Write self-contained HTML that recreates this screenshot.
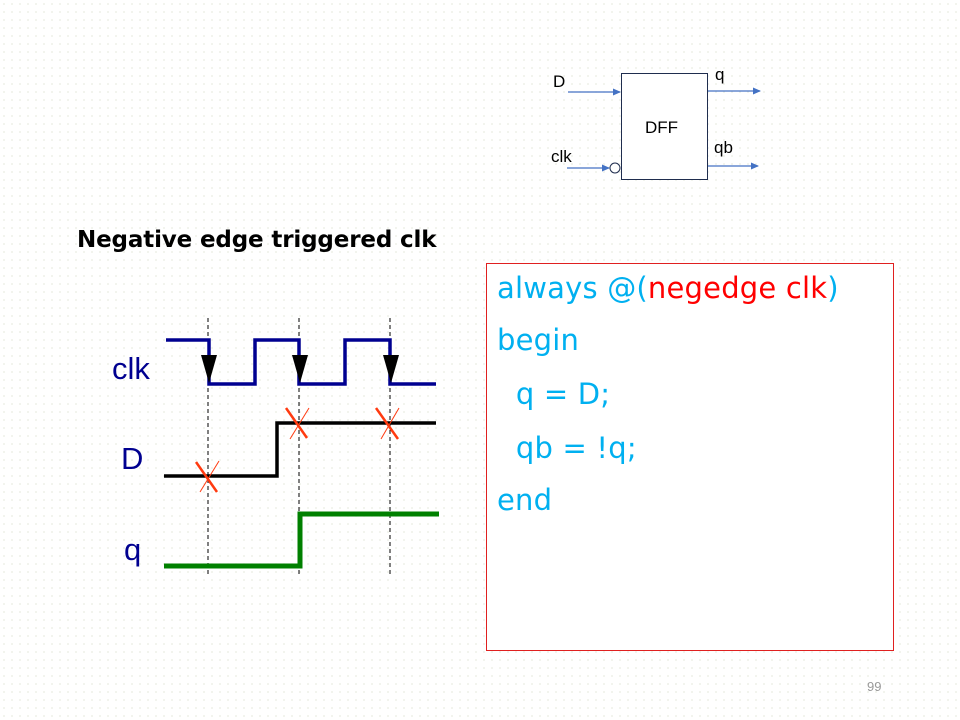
<!DOCTYPE html>
<html><head><style>
body{margin:0;width:960px;height:720px;overflow:hidden;background:#fff;
background-image:radial-gradient(circle,#e2e5d8 0.6px,transparent 0.9px);background-size:8px 8px;
font-family:"Liberation Sans",sans-serif;position:relative}
.t{position:absolute;white-space:nowrap}
.code{position:absolute;left:486px;top:263px;width:406px;height:386px;border:1px solid #e02020;background:#fff}
.code div{position:absolute;left:10px;font-family:"DejaVu Sans","Liberation Sans",sans-serif;font-size:29px;color:#00b0f0;letter-spacing:0.2px}
</style></head><body>
<svg width="960" height="720" style="position:absolute;left:0;top:0">
<defs><marker id="a" markerWidth="8" markerHeight="8" refX="7" refY="4" orient="auto" markerUnits="userSpaceOnUse"><path d="M0,0.5 L8,4 L0,7.5z" fill="#4472c4"/></marker></defs>
<rect x="621.5" y="73.5" width="86" height="106" fill="#fff" stroke="#1f2d4e" stroke-width="1"/>
<line x1="568" y1="92" x2="620" y2="92" stroke="#4472c4" stroke-width="1.3" marker-end="url(#a)"/>
<line x1="567" y1="168" x2="609" y2="168" stroke="#4472c4" stroke-width="1.3" marker-end="url(#a)"/>
<circle cx="615" cy="168" r="5" fill="#fff" stroke="#1f2d4e"/>
<line x1="708" y1="91" x2="760" y2="91" stroke="#4472c4" stroke-width="1.3" marker-end="url(#a)"/>
<line x1="708" y1="166" x2="758" y2="166" stroke="#4472c4" stroke-width="1.3" marker-end="url(#a)"/>
<text x="553" y="87" font-size="17" font-family="Liberation Sans">D</text>
<text x="551" y="162" font-size="17" font-family="Liberation Sans">clk</text>
<text x="715" y="80" font-size="17" font-family="Liberation Sans">q</text>
<text x="714" y="153" font-size="17" font-family="Liberation Sans">qb</text>
<text x="645" y="133" font-size="17" font-family="Liberation Sans">DFF</text>
<g stroke="#000" stroke-width="1" stroke-dasharray="4,3">
<line x1="208" y1="318" x2="208" y2="576"/><line x1="299" y1="318" x2="299" y2="576"/><line x1="390" y1="318" x2="390" y2="576"/></g>
<polyline points="166,340 209,340 209,384 255,384 255,340 299,340 299,384 345,384 345,340 390,340 390,384 436,384" fill="none" stroke="#000090" stroke-width="3.5"/>
<g fill="#000"><path d="M201,355 L217,355 L209,383z"/><path d="M292,355 L308,355 L300,383z"/><path d="M383,355 L399,355 L391,383z"/></g>
<polyline points="164,476 277,476 277,423 436,423" fill="none" stroke="#000" stroke-width="3.5"/>
<polyline points="164,566 300,566 300,514 439,514" fill="none" stroke="#008000" stroke-width="5"/>
<g stroke="#ff3a10" stroke-width="2.5">
<line x1="196" y1="462" x2="217" y2="492"/><line x1="219" y1="461" x2="200" y2="492" stroke-width="1"/>
<line x1="286" y1="408" x2="307" y2="438"/><line x1="309" y1="408" x2="290" y2="439" stroke-width="1"/>
<line x1="376" y1="408" x2="398" y2="439"/><line x1="399" y1="408" x2="381" y2="439" stroke-width="1"/>
</g>
</svg>
<div class="t" style="left:77px;top:227px;font-size:23px;font-weight:bold;font-family:'DejaVu Sans','Liberation Sans',sans-serif;letter-spacing:-0.15px">Negative edge triggered clk</div>
<div class="t" style="left:112px;top:351px;font-size:31px;color:#000090">clk</div>
<div class="t" style="left:121px;top:441px;font-size:31px;color:#000090">D</div>
<div class="t" style="left:124px;top:532px;font-size:31px;color:#000090">q</div>
<div class="code">
<div style="top:7px">always @(<span style="color:#f00">negedge clk</span>)</div>
<div style="top:59px">begin</div>
<div style="top:113px">&nbsp;&nbsp;q = D;</div>
<div style="top:167px">&nbsp;&nbsp;qb = !q;</div>
<div style="top:219px">end</div>
</div>
<div class="t" style="left:867px;top:679px;font-size:13px;color:#999">99</div>
</body></html>
